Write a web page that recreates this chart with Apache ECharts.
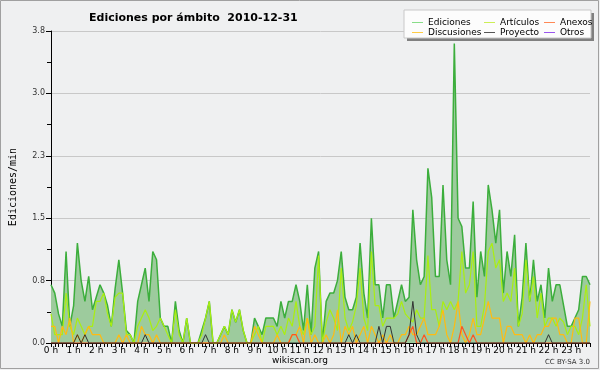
<!DOCTYPE html>
<html><head><meta charset="utf-8">
<script src="https://cdn.jsdelivr.net/npm/echarts@6/dist/echarts.min.js"></script>
<style>html,body{margin:0;padding:0;background:#eff0f1}#c{width:600px;height:370px}</style>
</head><body><div id="c"></div>
<script>
const hourLabels = ['0 h','1 h','2 h','3 h','4 h','5 h','6 h','7 h','8 h','9 h','10 h','11 h','12 h','13 h','14 h','15 h','16 h','17 h','18 h','19 h','20 h','21 h','22 h','23 h'];
const yTicks = [0, 0.75, 1.5, 2.25, 3.0, 3.75];
const ediciones = [0.7,0.6,0.35,0.2,1.1,0.2,0.45,1.2,0.75,0.5,0.8,0.4,0.55,0.7,0.6,0.45,0.2,0.65,1.0,0.6,0.15,0.1,0,0.5,
0.7,0.9,0.5,1.1,1.0,0.3,0.2,0.2,0,0.5,0.15,0,0.3,0,0,0,0.15,0.3,0.5,0,0,0.1,0.2,0.1,
0.4,0.25,0.4,0.15,0,0,0.3,0.2,0.1,0.3,0.3,0.3,0.2,0.5,0.3,0.5,0.5,0.7,0.5,0.15,0.7,0.1,0.9,1.1,
0,0.5,0.6,0.6,0.75,1.1,0.55,0.4,0.4,0.55,1.2,0.6,0.3,1.5,0.7,0.7,0.3,0.7,0.7,0.3,0.5,0.7,0.5,0.55,
1.6,1.0,0.7,0.8,2.1,1.75,0.8,0.8,1.9,1.0,0.7,3.6,1.5,1.4,0.9,0.9,1.7,0.55,1.1,0.8,1.9,1.6,1.2,1.6,
0.6,1.1,0.8,1.3,0.2,0.55,1.2,0.5,1.0,0.5,0.7,0.3,0.9,0.5,0.7,0.7,0.45,0.2,0.2,0.3,0.4,0.8,0.8,0.7];
const articulos = [0.35,0.1,0.1,0.1,0.6,0.2,0.1,0.3,0.2,0.1,0.2,0.2,0.5,0.5,0.6,0.35,0.2,0.55,0.6,0.6,0.1,0.1,0,0.2,
0.3,0.4,0.3,0.15,0.2,0.3,0.2,0.1,0,0.4,0.1,0,0.3,0,0,0,0.1,0.3,0.5,0,0,0.1,0.2,0.1,
0.4,0.25,0.4,0.15,0,0,0.1,0.2,0,0.2,0.2,0.2,0.1,0.2,0.1,0.3,0.2,0.5,0.2,0.1,0.3,0.1,0.2,1.05,
0,0.25,0.4,0.3,0.15,0.9,0.3,0.15,0.25,0.45,0.9,0.3,0.15,1.1,0.45,0.45,0.2,0.3,0.3,0.3,0.35,0.5,0.35,0.3,
0.25,0.4,0.3,0.3,1.05,0.4,0.4,0.2,0.5,0.4,0.5,0.4,0.5,1.1,0.6,0.7,1.1,0.2,0.2,0.45,1.1,1.2,0.9,1.0,
0.5,0.6,0.5,0.9,0.2,0.35,1.0,0.5,0.8,0.3,0.6,0.2,0.3,0.3,0.2,0.3,0.25,0.1,0.2,0.2,0.1,0.3,0.7,0.2];
const discusiones = [0.2,0.2,0,0.2,0.1,0.3,0,0.1,0,0.1,0.2,0.1,0.1,0.1,0,0,0,0,0.1,0,0.1,0,0,0,
0.2,0.1,0.1,0,0.1,0,0,0,0,0,0,0,0,0,0,0,0,0,0,0,0,0,0.1,0,
0,0,0,0,0,0,0.2,0.1,0,0,0,0,0.1,0,0,0,0.1,0.1,0.2,0,0.3,0,0.1,0,
0,0.1,0,0.1,0.4,0,0.2,0.1,0.2,0,0.1,0.2,0,0.2,0.1,0,0.1,0,0.1,0,0,0.1,0.1,0.2,
0.1,0.1,0.2,0.3,0.1,0.1,0.1,0.2,0.4,0.1,0,0.2,0.5,0.1,0,0.1,0.3,0.1,0.1,0.3,0.5,0.3,0.3,0.3,
0,0.2,0.2,0.1,0.1,0.1,0,0.1,0,0.1,0.1,0.2,0.2,0.3,0.3,0.1,0.1,0,0,0.3,0.3,0,0,0.5];
const anexos = [0,0,0,0,0,0,0,0,0,0,0,0,0,0,0,0,0,0,0,0,0,0,0,0,
0,0,0,0,0,0,0,0,0,0,0,0,0,0,0,0,0,0,0,0,0,0,0,0,
0,0,0,0,0,0,0,0,0,0,0,0,0,0,0,0,0.1,0.1,0,0,0,0,0,0,
0,0,0,0,0,0,0,0,0,0,0,0,0,0,0,0,0,0,0,0,0,0,0,0.1,
0.2,0,0,0.1,0,0,0,0,0,0,0,0,0,0.2,0.1,0,0.1,0,0,0,0,0,0,0,
0,0,0,0,0,0,0,0,0,0,0,0,0,0,0,0,0,0,0,0,0,0,0,0];
const proyecto = [0,0,0,0,0,0,0,0.1,0,0.1,0,0,0,0,0,0,0,0,0,0,0,0,0,0,
0,0.1,0,0,0,0,0,0,0,0,0,0,0,0,0,0,0,0.1,0,0,0,0,0,0,
0,0,0,0,0,0,0,0,0,0,0,0,0,0,0,0,0,0,0,0,0,0,0,0,
0,0,0,0,0,0,0,0.1,0,0.1,0,0,0,0,0,0.2,0,0.2,0.2,0,0,0,0,0.1,
0.5,0.1,0,0,0,0,0,0,0,0,0,0,0,0,0,0,0,0,0,0,0,0,0,0,
0,0,0,0,0,0,0,0,0,0,0,0,0.1,0,0,0,0,0,0,0,0,0,0,0];
const otros = [];
const categories = [];
for (let h = 0; h < 24; h++) for (let m = 0; m < 60; m += 10) categories.push(h + ':' + (m < 10 ? '0' : '') + m);

const chart = echarts.init(document.getElementById('c'), null, {renderer: 'canvas'});
const F = 'DejaVu Sans';
function line(name, data, color, z, w) {
  return {name, type: 'line', data, symbol: 'none', z, lineStyle: {color, width: w || 1}, itemStyle: {color}, animation: false};
}
const legTxt = {fontFamily: F, fontSize: 9, color: '#000'};
chart.setOption({
  backgroundColor: '#eff0f1',
  animation: false,
  title: {text: 'Ediciones por ámbito  2010-12-31', left: 84, top: 8,
    textStyle: {fontFamily: F, fontSize: 11, fontWeight: 'bold', color: '#000'}},
  grid: {left: 47, right: 10, top: 31, bottom: 27},
  xAxis: {type: 'category', data: categories, boundaryGap: false,
    axisLine: {lineStyle: {color: '#000', width: 1}},
    axisTick: {interval: 0, length: 4, lineStyle: {color: '#000'}},
    axisLabel: {interval: 5, margin: 3, fontFamily: F, fontSize: 9, color: '#000',
      formatter: (v, i) => hourLabels[Math.round(i / 6)]},
    splitLine: {show: false}},
  yAxis: {type: 'value', min: yTicks[0], max: yTicks[yTicks.length - 1], interval: 0.75,
    name: 'Ediciones/min', nameLocation: 'middle', nameGap: 33,
    nameTextStyle: {fontFamily: 'DejaVu Sans Mono', fontSize: 10, color: '#000'},
    axisLine: {show: true, lineStyle: {color: '#000'}},
    axisTick: {show: true, length: 5, lineStyle: {color: '#000'}},
    minorTick: {show: true, splitNumber: 2, length: 4, lineStyle: {color: '#000'}},
    axisLabel: {margin: 6, fontFamily: F, fontSize: 8, color: '#333', formatter: v => v.toFixed(1)},
    splitLine: {show: true, lineStyle: {color: '#c8c8c8', width: 1}}},
  legend: [
    {orient: 'vertical', left: 407, top: 13, itemGap: 1, itemWidth: 11, itemHeight: 1, icon: 'rect', textStyle: legTxt,
     data: [{name: 'Ediciones', itemStyle: {color: '#88dd88'}}, {name: 'Discusiones', itemStyle: {color: '#ffcc44'}}]},
    {orient: 'vertical', left: 479, top: 13, itemGap: 1, itemWidth: 11, itemHeight: 1, icon: 'rect', textStyle: legTxt,
     data: [{name: 'Artículos', itemStyle: {color: '#ccee55'}}, {name: 'Proyecto', itemStyle: {color: '#555555'}}]},
    {orient: 'vertical', left: 539, top: 13, itemGap: 1, itemWidth: 11, itemHeight: 1, icon: 'rect', textStyle: legTxt,
     data: [{name: 'Anexos', itemStyle: {color: '#ff8855'}}, {name: 'Otros', itemStyle: {color: '#9955ee'}}]}
  ],
  graphic: [
    {type: 'rect', shape: {x: 0.5, y: 0.5, width: 598, height: 368}, style: {fill: null, stroke: '#a0a0a0', lineWidth: 1}, z: 100},
    {type: 'rect', shape: {x: 407, y: 13, width: 187, height: 28}, style: {fill: '#808080'}, z: 0},
    {type: 'rect', shape: {x: 404, y: 10, width: 187, height: 28}, style: {fill: '#fcfcfc', stroke: '#c8c8c8', lineWidth: 1}, z: 1},
    {type: 'text', left: 'center', top: 356, style: {text: 'wikiscan.org', fontFamily: F, fontSize: 9, fill: '#000'}},
    {type: 'text', right: 10, top: 359, style: {text: 'CC BY-SA 3.0', fontFamily: F, fontSize: 7, fill: '#333'}}
  ],
  series: [
    Object.assign(line('Ediciones', ediciones, '#3cae3c', 2, 1.5), {areaStyle: {color: '#9dcb9d', opacity: 1}}),
    line('Artículos', articulos, '#aaee11', 3, 1.2),
    line('Discusiones', discusiones, '#ffbb11', 4, 1.2),
    line('Anexos', anexos, '#ff5522', 5, 1.2),
    line('Proyecto', proyecto, '#333333', 6, 1),
    line('Otros', otros, '#9944ee', 7, 1)
  ]
});
</script></body></html>
